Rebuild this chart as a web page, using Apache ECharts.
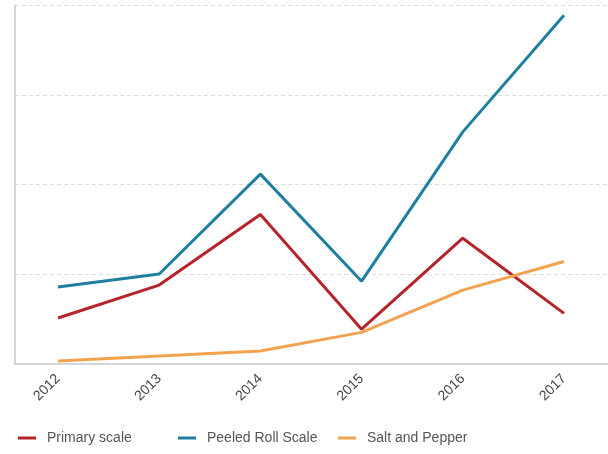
<!DOCTYPE html>
<html>
<head>
<meta charset="utf-8">
<script src="https://cdn.jsdelivr.net/npm/echarts@6/dist/echarts.min.js"></script>
<style>html,body{margin:0;padding:0;background:#fff}#c{width:608px;height:454px}</style>
</head>
<body>
<div id="c"></div>
<script>
const categories = ['2012','2013','2014','2015','2016','2017'];
const primaryScale = [12.7, 21.9, 41.6, 9.6, 35.0, 14.0];
const peeledRollScale = [21.4, 25.0, 52.9, 23.0, 64.7, 97.3];
const saltAndPepper = [0.7, 2.1, 3.5, 8.7, 20.5, 28.5];
const seriesNames = ['Primary scale', 'Peeled Roll Scale', 'Salt and Pepper'];
const colors = ['#b5242a', '#1f7f9f', '#f3a350'];

const toPairs = arr => arr.map((v, i) => [i, v]);
const chart = echarts.init(document.getElementById('c'), null, {renderer: 'canvas'});
const mk = (name, data, color) => ({
  name, type: 'line', data: toPairs(data), symbol: 'none',
  lineStyle: {color, width: 3}, itemStyle: {color}
});
const legendLefts = [18, 178, 338];
const legends = seriesNames.map((n, i) => ({
  top: 431, left: legendLefts[i], itemGap: 0, itemWidth: 18, itemHeight: 3,
  icon: 'rect', padding: 0,
  textStyle: {color: '#555', fontSize: 14, fontFamily: 'Liberation Sans', padding: [0, 0, 0, 6]},
  data: [n]
}));
chart.setOption({
  animation: false,
  color: colors,
  grid: {left: 15, right: 0, top: 5.5, bottom: 90.5, containLabel: false},
  legend: legends,
  xAxis: {
    type: 'value', min: -0.425, max: 5.435,
    axisLine: {show: true, onZero: false, lineStyle: {color: '#cccccc', width: 1.5}},
    axisTick: {show: false},
    splitLine: {show: false},
    axisLabel: {
      customValues: [0,1,2,3,4,5],
      rotate: 45, margin: 13, color: '#444', fontSize: 14, fontFamily: 'Liberation Sans',
      formatter: v => categories[Math.round(v)]
    }
  },
  yAxis: {
    type: 'value', min: 0, max: 100, interval: 25,
    axisLine: {show: true, onZero: false, lineStyle: {color: '#d6d6d6', width: 2}},
    axisTick: {show: false},
    axisLabel: {show: false},
    splitLine: {show: true, lineStyle: {color: '#dddddd', type: [4, 3], width: 1}}
  },
  series: [
    mk(seriesNames[0], primaryScale, colors[0]),
    mk(seriesNames[1], peeledRollScale, colors[1]),
    mk(seriesNames[2], saltAndPepper, colors[2])
  ]
});
</script>
</body>
</html>
